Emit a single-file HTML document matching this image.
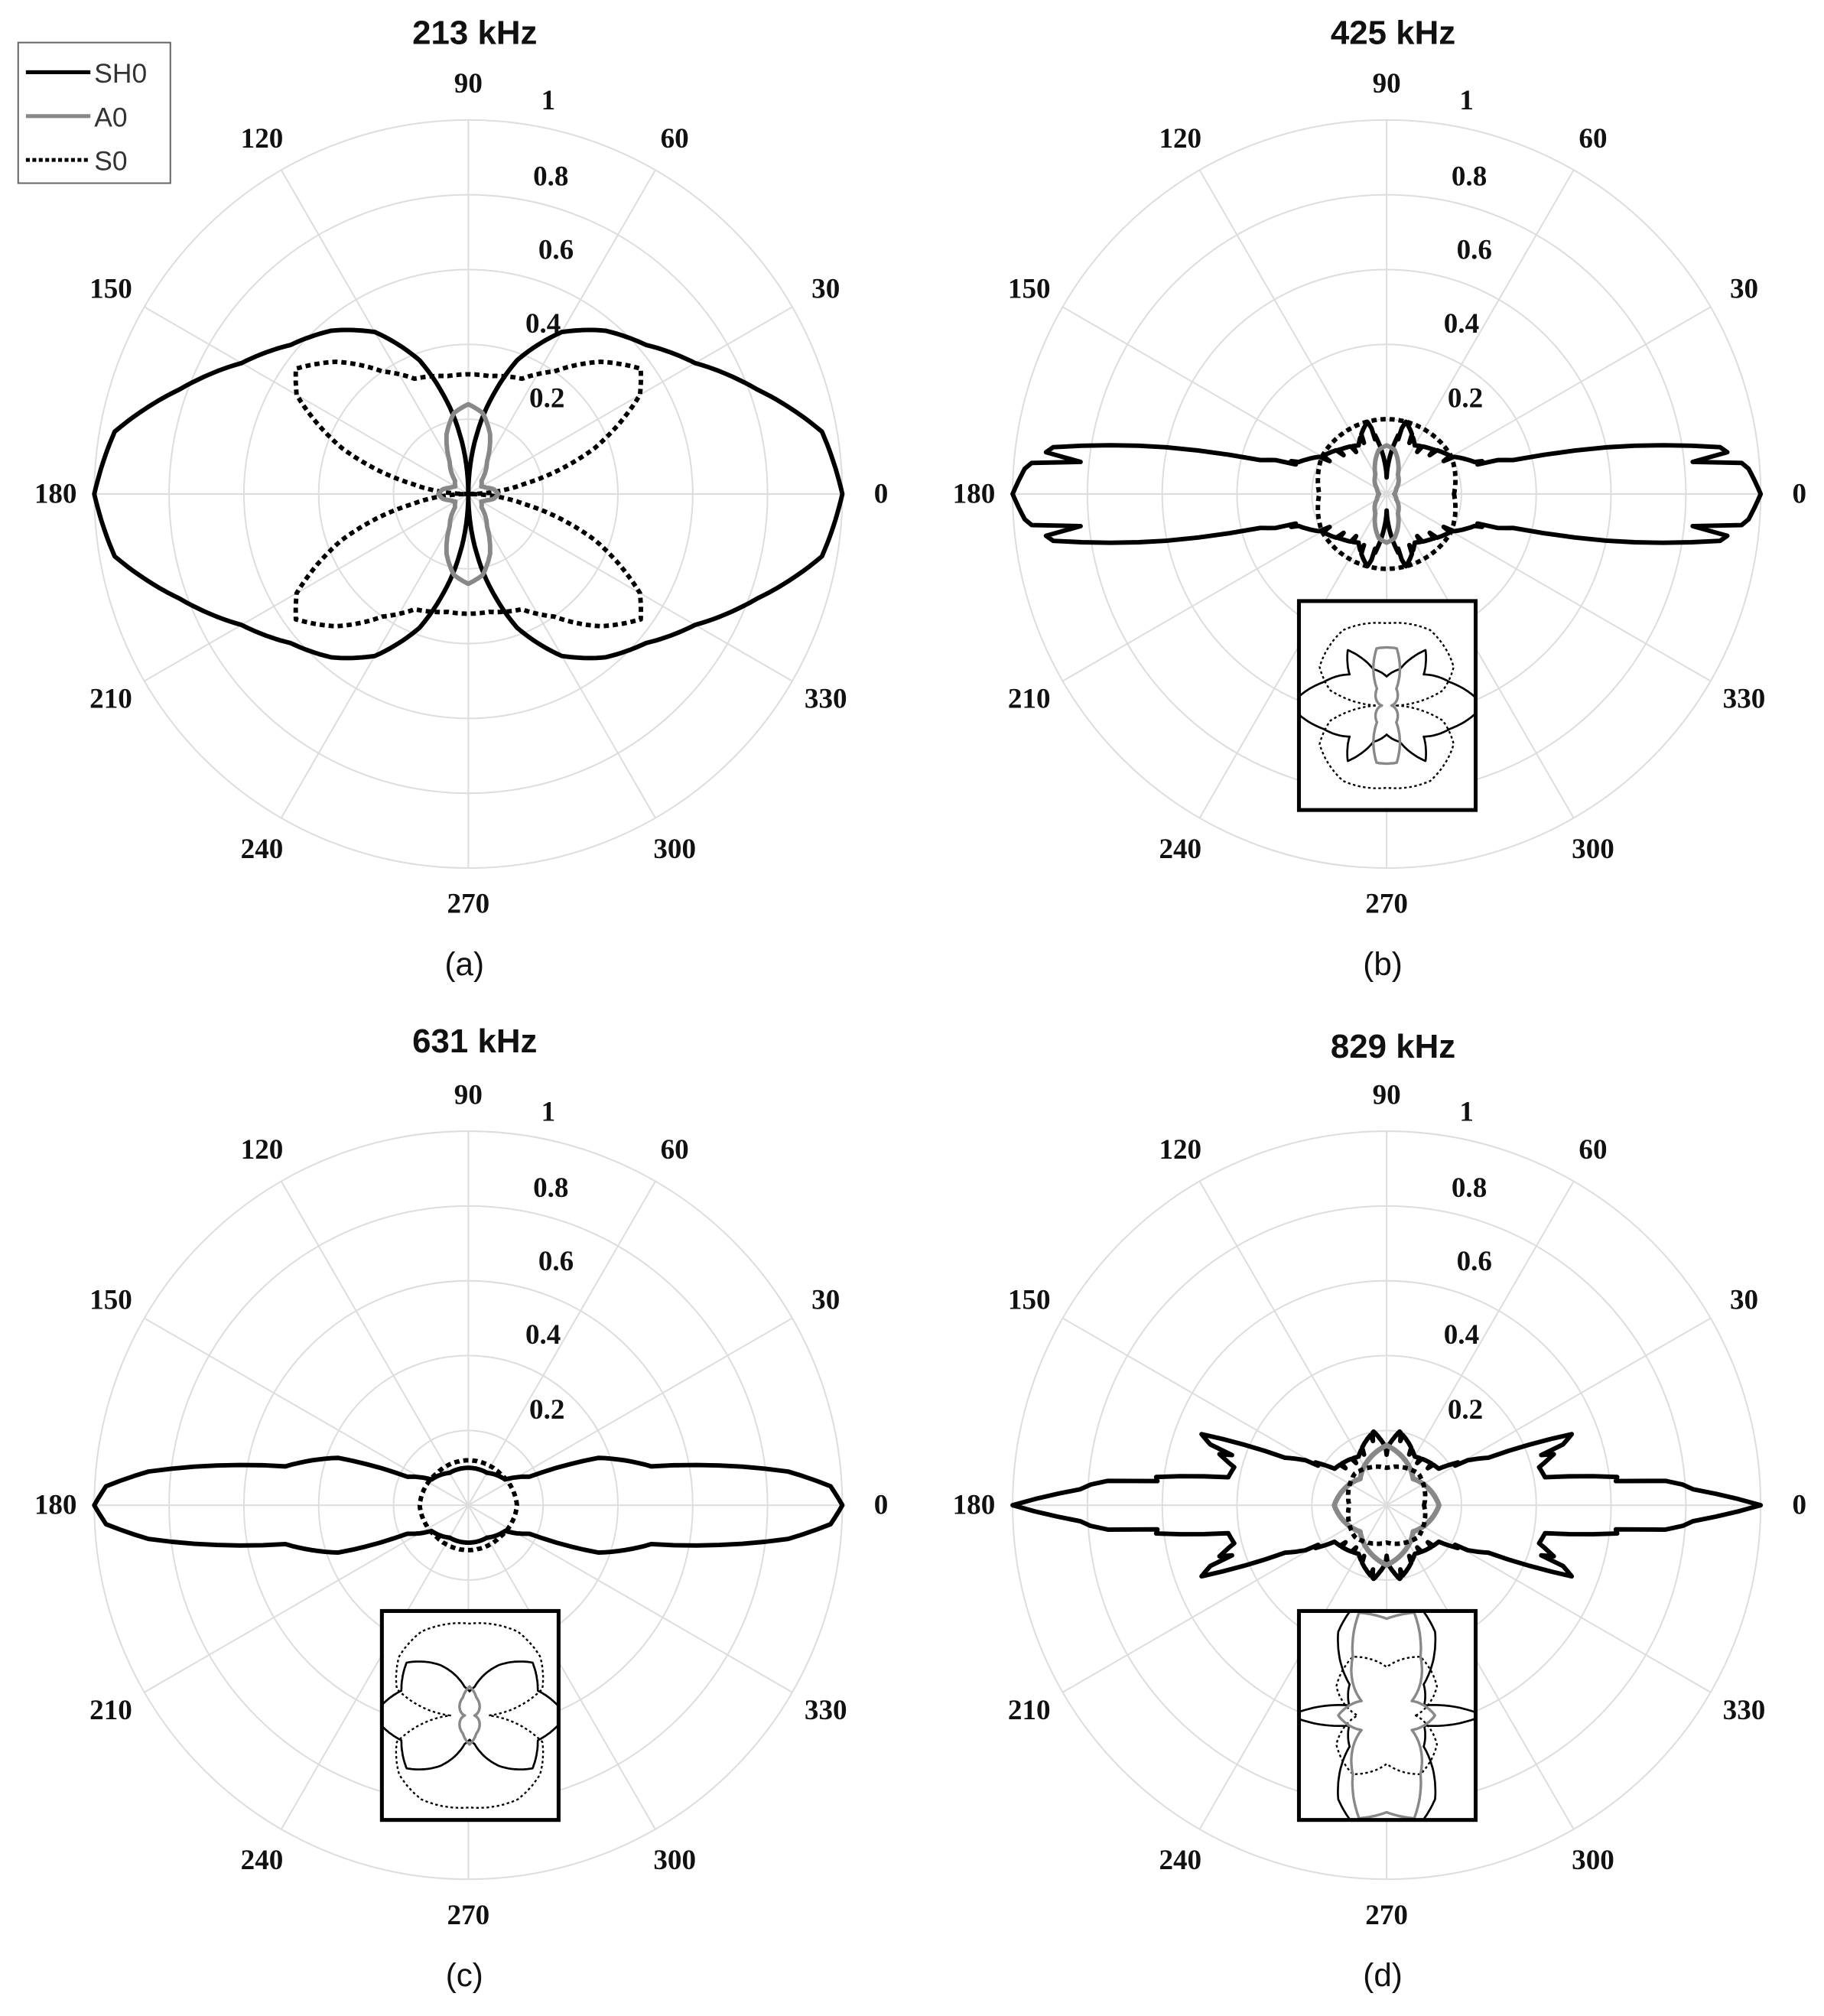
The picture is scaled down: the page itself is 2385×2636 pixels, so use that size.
<!DOCTYPE html>
<html><head><meta charset="utf-8"><style>
html,body{margin:0;padding:0;background:#fff}
svg{display:block}
.ang{font-family:"Liberation Serif",serif;font-weight:bold;font-size:22px;fill:#111;text-anchor:middle;dominant-baseline:central}
.ttl{font-family:"Liberation Sans",sans-serif;font-weight:bold;font-size:26px;fill:#111;text-anchor:middle}
.cap{font-family:"Liberation Sans",sans-serif;font-size:25px;fill:#111;text-anchor:middle}
.leg{font-family:"Liberation Sans",sans-serif;font-size:21px;fill:#333}
</style></head><body>
<svg id="s" width="2385" height="2636" viewBox="0 0 1414 1563" xmlns="http://www.w3.org/2000/svg">
<rect x="14" y="33" width="118" height="109" fill="#fff" stroke="#666" stroke-width="1.2"/>
<line x1="20" y1="56" x2="70" y2="56" stroke="#000" stroke-width="3"/><text class="leg" x="73" y="64">SH0</text>
<line x1="20" y1="90" x2="70" y2="90" stroke="#888" stroke-width="3"/><text class="leg" x="73" y="98">A0</text>
<line x1="20" y1="124" x2="70" y2="124" stroke="#000" stroke-width="3" stroke-dasharray="3,2"/><text class="leg" x="73" y="132">S0</text>
</svg>
<script>
var s=document.getElementById('s'),NS='http://www.w3.org/2000/svg';
function el(t,a,txt,par){var e=document.createElementNS(NS,t);for(var k in a)e.setAttribute(k,a[k]);if(txt!=null)e.textContent=txt;(par||s).appendChild(e);return e;}
var R=290;
function interp(tab,a){for(var i=0;i<tab.length-1;i++){if(a>=tab[i][0]&&a<=tab[i+1][0]){var t=(a-tab[i][0])/(tab[i+1][0]-tab[i][0]);return tab[i][1]+t*(tab[i+1][1]-tab[i][1]);}}return tab[tab.length-1][1];}
function curve(cx,cy,tab,sc,jit){var d='';for(var a=0;a<360;a+=1){var q=a%180;q=q>90?180-q:q;var r=interp(tab,q);if(jit&&a%12==6)r*=jit;var th=a*Math.PI/180;var x=cx+sc*r*Math.cos(th),y=cy-sc*r*Math.sin(th);d+=(a?'L':'M')+x.toFixed(1)+','+y.toFixed(1);}return d+'Z';}
function grid(cx,cy){for(var i=1;i<=5;i++)el('circle',{cx:cx,cy:cy,r:R*i/5,fill:'none',stroke:'#ddd','stroke-width':1.2});
for(var a=0;a<180;a+=30){var t=a*Math.PI/180;el('line',{x1:cx-R*Math.cos(t),y1:cy+R*Math.sin(t),x2:cx+R*Math.cos(t),y2:cy-R*Math.sin(t),stroke:'#ddd','stroke-width':1.2});}
for(var a=0;a<360;a+=30){var t=a*Math.PI/180;el('text',{class:'ang',x:cx+320*Math.cos(t),y:cy-318*Math.sin(t)},''+a);}
var rl=[['1',62,-305],['0.8',64,-246],['0.6',68,-189],['0.4',58,-132],['0.2',61,-74]];
rl.forEach(function(r){el('text',{class:'ang',x:cx+r[1],y:cy+r[2]},r[0]);});}
function P(cx,cy,tab,st,dash,w,jit,sc,par){var a={d:curve(cx,cy,tab,sc||R,jit),fill:'none',stroke:st,'stroke-width':w||3.5,'stroke-linejoin':'round'};if(dash)a['stroke-dasharray']=dash;el('path',a,null,par);}
var panels=[[363,383,'213 kHz',25,'(a)',747],[1075,383,'425 kHz',25,'(b)',747],[363,1167,'631 kHz',807,'(c)',1531],[1075,1167,'829 kHz',811,'(d)',1531]];
panels.forEach(function(p){grid(p[0],p[1]);el('text',{class:'ttl',x:p[0]+5,y:p[3]+9},p[2]);el('text',{class:'cap',x:p[0]-3,y:p[5]+9},p[4]);});
// (a)
P(363,383,[[0,1],[10,.96],[20,.82],[30,.7],[40,.62],[50,.57],[60,.5],[70,.38],[80,.2],[90,0]],'#000');
P(363,383,[[0,0],[10,.15],[20,.36],[30,.53],[36,.57],[45,.5],[55,.4],[65,.34],[80,.32],[90,.32]],'#000','4,3');
P(363,383,[[0,.08],[10,.07],[20,.05],[30,.04],[45,.05],[60,.1],[70,.17],[80,.22],[90,.24]],'#888');
// (b)
P(1075,383,[[0,1],[4,.97],[8,.9],[12,.6],[15,.35],[20,.25],[30,.2],[45,.17],[60,.15],[75,.2],[90,.05]],'#000',null,3.5,.88);
P(1075,383,[[0,.18],[30,.2],[60,.2],[90,.2]],'#000','4,3',3.5);
P(1075,383,[[0,.02],[30,.03],[60,.06],[80,.12],[90,.13]],'#888',null,3.5);
// (c)
P(363,1167,[[0,1],[3,.97],[6,.86],[12,.5],[20,.37],[25,.18],[35,.12],[60,.1],[90,.1]],'#000');
P(363,1167,[[0,.13],[45,.12],[90,.12]],'#000','4,3',3.5);
// (d)
P(1075,1167,[[0,1],[3,.82],[4.5,.78],[10,.43],[14,.42],[21,.53],[25,.3],[35,.17],[60,.15],[80,.2],[90,.15]],'#000',null,3.5,.9);
P(1075,1167,[[0,.14],[45,.1],[90,.16]],'#888',null,4);
P(1075,1167,[[0,.1],[45,.12],[90,.1]],'#000','4,3',3.5);
// insets
var defs=el('defs',{});var n=0;
function inset(x,y,c1,c2,c3){var id='c'+(n++);var cp=el('clipPath',{id:id},null,defs);el('rect',{x:x,y:y,width:137,height:162},null,cp);
el('rect',{x:x,y:y,width:137,height:162,fill:'#fff',stroke:'none'});
var g=el('g',{'clip-path':'url(#'+id+')'});
var cx=x+68,cy=y+81;P(cx,cy,c1,'#000',null,1.6,null,75,g);P(cx,cy,c2,'#000','2,2',1.4,null,75,g);if(c3)P(cx,cy,c3,'#888',null,2,null,75,g);
el('rect',{x:x,y:y,width:137,height:162,fill:'none',stroke:'#000','stroke-width':3});}
inset(1007,466,[[0,1],[20,.7],[40,.5],[55,.7],[70,.4],[90,.3]],[[0,.1],[15,.6],[30,.8],[60,.9],[90,.85]],[[0,.05],[60,.2],[80,.6],[90,.6]]);
inset(296,1249,[[0,1],[20,.75],[40,.85],[60,.6],[80,.3],[90,.25]],[[0,.2],[20,.8],[40,.95],[60,1],[90,.95]],[[0,.05],[70,.2],[90,.3]]);
inset(1007,1249,[[0,1],[15,.4],[40,.5],[60,1],[75,1.2],[90,1.2]],[[0,.3],[30,.6],[60,.7],[90,.5]],[[0,.5],[30,.3],[60,.7],[75,1.1],[90,1]]);
</script>
</body></html>
